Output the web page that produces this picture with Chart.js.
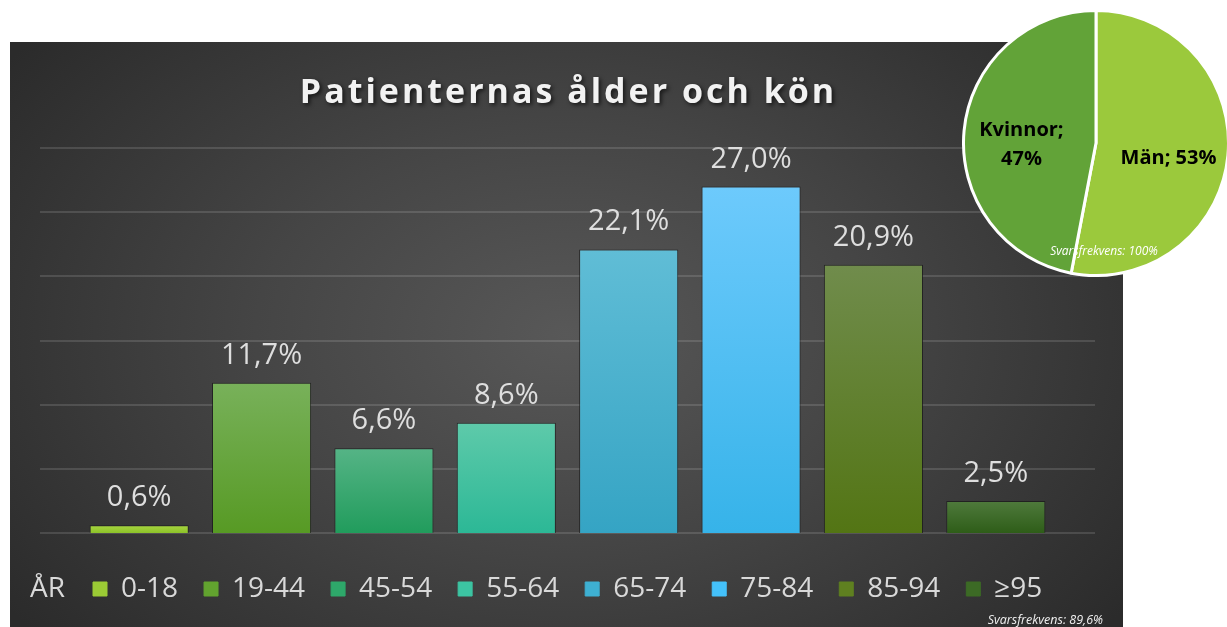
<!DOCTYPE html>
<html lang="sv">
<head>
<meta charset="utf-8">
<title>Patienternas ålder och kön</title>
<script src="https://cdn.jsdelivr.net/npm/chart.js@4.4.1/dist/chart.umd.min.js"></script>
<style>
    html, body { margin: 0; padding: 0; background: #fff; width: 1227px; height: 627px; overflow: hidden; }
    #panel {
        position: absolute; left: 10px; top: 42px; width: 1113px; height: 585px;
        background: radial-gradient(ellipse 62% 80% at 50% 50%, #585858 0%, #454545 45%, #2b2b2b 100%);
    }
    #stapel { position: absolute; left: 0; top: 0; }
    #paj { position: absolute; left: 962px; top: 9px; }
</style>
</head>
<body>
<div id="panel"><canvas id="stapel" width="1113" height="585"></canvas></div>
<canvas id="paj" width="268" height="268"></canvas>
<script>
(function () {
    'use strict';

    // ─── Data ─────────────────────────────────────────────────────
    const kategorier = ['0-18', '19-44', '45-54', '55-64', '65-74', '75-84', '85-94', '≥95'];
    const andelar    = [0.6, 11.7, 6.6, 8.6, 22.1, 27.0, 20.9, 2.5];
    const yMax = 30;
    const ySteg = 5;

    const konEtiketter = ['Män', 'Kvinnor'];
    const konAndelar   = [53, 47];

    const titel       = 'Patienternas ålder och kön';
    const axelRubrik  = 'ÅR';
    const svarsStapel = 'Svarsfrekvens: 89,6%';
    const svarsPaj    = 'Svarsfrekvens: 100%';

    // Färger per åldersgrupp (topp -> botten i gradienten)
    const farger = [
        { topp: '#a8d640', botten: '#8cc229', ruta: '#9bcb35' },
        { topp: '#78b15a', botten: '#579a24', ruta: '#62a32f' },
        { topp: '#55b486', botten: '#219c5c', ruta: '#2ea86a' },
        { topp: '#5ecaaa', botten: '#2cb896', ruta: '#3cc4a2' },
        { topp: '#60bdd6', botten: '#35a4c4', ruta: '#3eb0d2' },
        { topp: '#6dcafc', botten: '#36b3e9', ruta: '#44c1fa' },
        { topp: '#708c4c', botten: '#537514', ruta: '#5f8020' },
        { topp: '#4f7a3c', botten: '#2e5d18', ruta: '#3c6a25' }
    ];
    const pajFarger = ['#9bc93c', '#62a338'];

    const FONT = '"Open Sans", "DejaVu Sans", sans-serif';
    const fmt = (v) => v.toFixed(1).replace('.', ',') + '%';

    // ─── Plugin: stödlinjer utanför diagramytan ───────────────────
    const stodlinjer = {
        id: 'stodlinjer',
        beforeDatasetsDraw(chart) {
            const { ctx, chartArea, scales: { y } } = chart;
            ctx.save();
            ctx.strokeStyle = 'rgba(255,255,255,0.13)';
            ctx.lineWidth = 2;
            y.ticks.forEach((t) => {
                const py = Math.round(y.getPixelForValue(t.value));
                ctx.beginPath();
                ctx.moveTo(chartArea.left - 38, py);
                ctx.lineTo(chartArea.right + 38, py);
                ctx.stroke();
            });
            ctx.restore();
        }
    };

    // ─── Plugin: värden ovanför staplarna ─────────────────────────
    const vardeEtiketter = {
        id: 'vardeEtiketter',
        afterDatasetsDraw(chart) {
            const ctx = chart.ctx;
            const meta = chart.getDatasetMeta(0);
            ctx.save();
            ctx.font = '29px ' + FONT;
            ctx.fillStyle = '#dedede';
            ctx.textAlign = 'center';
            ctx.textBaseline = 'alphabetic';
            meta.data.forEach((bar, i) => {
                ctx.fillText(fmt(andelar[i]), bar.x, bar.y - 19);
            });
            ctx.restore();
        }
    };

    // ─── Plugin: titel, "ÅR" och svarsfrekvens ────────────────────
    const texter = {
        id: 'texter',
        afterDraw(chart) {
            const ctx = chart.ctx;
            ctx.save();
            // titel med skugga och spärrning
            ctx.font = 'bold 34px ' + FONT;
            ctx.letterSpacing = '3px';
            ctx.textAlign = 'center';
            ctx.textBaseline = 'middle';
            ctx.shadowColor = 'rgba(0,0,0,0.65)';
            ctx.shadowBlur = 4;
            ctx.shadowOffsetX = 2;
            ctx.shadowOffsetY = 2;
            ctx.fillStyle = '#f2f2f2';
            ctx.fillText(titel, chart.width / 2 + 2, 51);
            ctx.restore();

            ctx.save();
            const box = chart.legend.legendHitBoxes[0];
            ctx.font = '28px ' + FONT;
            ctx.fillStyle = '#d9d9d9';
            ctx.textAlign = 'left';
            ctx.textBaseline = 'middle';
            if (box) ctx.fillText(axelRubrik, 20, box.top + box.height / 2);

            ctx.font = 'italic 12.5px ' + FONT;
            ctx.fillStyle = '#f0f0f0';
            ctx.textAlign = 'right';
            ctx.fillText(svarsStapel, 1093, 578);
            ctx.restore();
        }
    };

    // ─── Stapeldiagram ────────────────────────────────────────────
    new Chart(document.getElementById('stapel'), {
        type: 'bar',
        data: {
            labels: kategorier,
            datasets: [{
                data: andelar,
                backgroundColor: (c) => {
                    const f = farger[c.dataIndex];
                    const y = c.chart.scales.y;
                    if (c.type !== 'data' || !y) return f.ruta;
                    const topp = y.getPixelForValue(c.raw);
                    const botten = y.getPixelForValue(0);
                    if (!isFinite(topp) || botten - topp < 1) return f.ruta;
                    const g = c.chart.ctx.createLinearGradient(0, topp, 0, botten);
                    g.addColorStop(0, f.topp);
                    g.addColorStop(1, f.botten);
                    return g;
                },
                borderColor: 'rgba(25,25,25,0.75)',
                borderWidth: { top: 1, left: 1, right: 1, bottom: 0 },
                borderSkipped: false,
                categoryPercentage: 1,
                barPercentage: 0.81
            }]
        },
        options: {
            responsive: false,
            animation: false,
            layout: { padding: { left: 57, right: 0, top: 106, bottom: 14 } },
            scales: {
                x: {
                    display: true,
                    grid: { display: false },
                    border: { display: false },
                    ticks: { display: false },
                    afterFit: (s) => { s.height = 16; }
                },
                y: {
                    min: 0,
                    max: yMax,
                    ticks: { display: false, stepSize: ySteg },
                    grid: { display: false },
                    border: { display: false },
                    afterFit: (s) => { s.width = 11; }
                },
                y2: {
                    position: 'right',
                    display: true,
                    ticks: { display: false },
                    grid: { display: false },
                    border: { display: false },
                    afterFit: (s) => { s.width = 66; }
                }
            },
            plugins: {
                title: { display: false },
                tooltip: { enabled: false },
                legend: {
                    position: 'bottom',
                    align: 'start',
                    onClick: null,
                    labels: {
                        boxWidth: 14,
                        boxHeight: 14,
                        padding: 26,
                        color: '#d9d9d9',
                        font: { family: FONT, size: 28 },
                        generateLabels: () => kategorier.map((k, i) => ({
                            text: k,
                            fillStyle: farger[i].ruta,
                            strokeStyle: farger[i].ruta,
                            lineWidth: 1,
                            fontColor: '#d9d9d9',
                            hidden: false,
                            index: i
                        }))
                    }
                }
            }
        },
        plugins: [stodlinjer, vardeEtiketter, texter]
    });

    // ─── Pajdiagram: kön ──────────────────────────────────────────
    const pajEtiketter = {
        id: 'pajEtiketter',
        afterDatasetsDraw(chart) {
            const ctx = chart.ctx;
            const arcs = chart.getDatasetMeta(0).data;
            ctx.save();
            ctx.font = 'bold 20px ' + FONT;
            ctx.fillStyle = '#000';
            ctx.textAlign = 'center';
            ctx.textBaseline = 'middle';
            arcs.forEach((a, i) => {
                const mitt = (a.startAngle + a.endAngle) / 2;
                const r = a.outerRadius * 0.55;
                const px = a.x + Math.cos(mitt) * r;
                const py = a.y + Math.sin(mitt) * r + 8;
                if (i === 0) {
                    ctx.fillText(konEtiketter[i] + '; ' + konAndelar[i] + '%', px, py);
                } else {
                    ctx.fillText(konEtiketter[i] + ';', px - 2, py - 14);
                    ctx.fillText(konAndelar[i] + '%', px - 2, py + 15);
                }
            });
            const c = arcs[0];
            ctx.font = 'italic 12px ' + FONT;
            ctx.fillStyle = '#ffffff';
            ctx.fillText(svarsPaj, c.x + 8, c.y + 109);
            ctx.restore();
        }
    };

    new Chart(document.getElementById('paj'), {
        type: 'pie',
        data: {
            labels: konEtiketter,
            datasets: [{
                data: konAndelar,
                backgroundColor: pajFarger,
                borderColor: '#ffffff',
                borderWidth: 3
            }]
        },
        options: {
            responsive: false,
            animation: false,
            plugins: {
                legend: { display: false },
                tooltip: { enabled: false }
            }
        },
        plugins: [pajEtiketter]
    });
})();
</script>
</body>
</html>
